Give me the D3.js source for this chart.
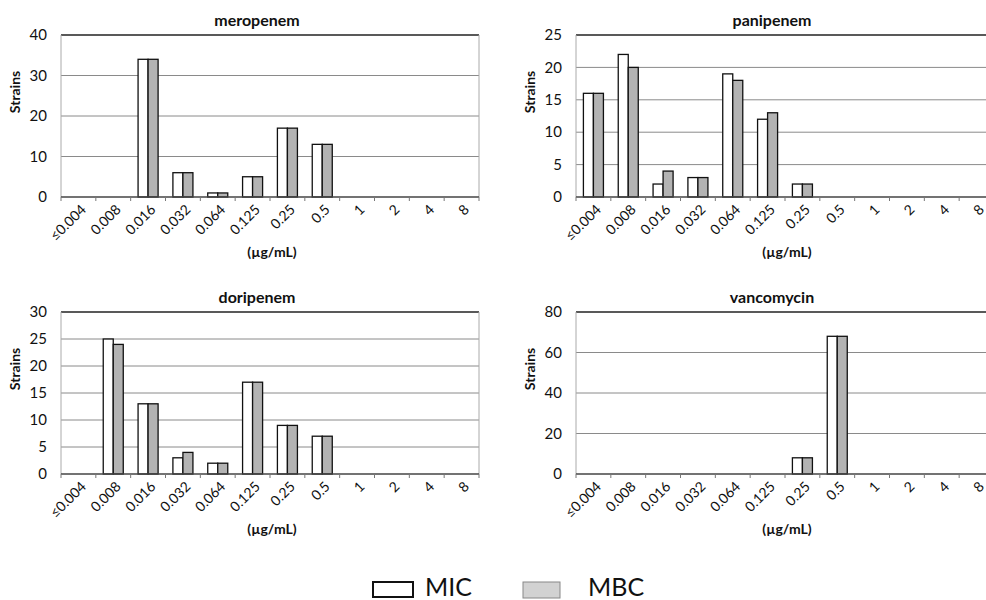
<!DOCTYPE html>
<html>
<script src='https://d3js.org/d3.v7.min.js'></script>
<style>
 body {margin:0; background:#fff;}
 text {font-family: Lato, "Open Sans", sans-serif; fill:#111;}
</style>
<body onload='init()'>
<svg width=986 height=600>
</svg>
<script>

// concentration classes (µg/mL)
const categories = ['≤0.004','0.008','0.016','0.032','0.064','0.125','0.25','0.5','1','2','4','8'];

const meropenemMIC = [0,0,34,6,1,5,17,13,0,0,0,0];
const meropenemMBC = [0,0,34,6,1,5,17,13,0,0,0,0];
const panipenemMIC = [16,22,2,3,19,12,2,0,0,0,0,0];
const panipenemMBC = [16,20,4,3,18,13,2,0,0,0,0,0];
const doripenemMIC = [0,25,13,3,2,17,9,7,0,0,0,0];
const doripenemMBC = [0,24,13,4,2,17,9,7,0,0,0,0];
const vancomycinMIC = [0,0,0,0,0,0,8,68,0,0,0,0];
const vancomycinMBC = [0,0,0,0,0,0,8,68,0,0,0,0];

const series = ['MIC','MBC'];

function init() {

 var w = 418, h = 162;
 var svg = d3.select('svg');

 drawPanel(61, 35, 'meropenem', meropenemMIC, meropenemMBC, 40, 10);
 drawPanel(576, 35, 'panipenem', panipenemMIC, panipenemMBC, 25, 5);
 drawPanel(61, 312, 'doripenem', doripenemMIC, doripenemMBC, 30, 5);
 drawPanel(576, 312, 'vancomycin', vancomycinMIC, vancomycinMBC, 80, 20);

 function drawPanel(left, top, title, mic, mbc, ymax, ystep) {
  var g = svg.append('g').attr('transform', 'translate(' + left + ',' + top + ')');

  var x = d3.scaleBand().domain(categories).range([0, w]);
  var xs = d3.scaleBand().domain(series).range([0, x.bandwidth()]).paddingOuter(0.74);
  var y = d3.scaleLinear().domain([0, ymax]).range([h, 0]);
  var ticks = d3.range(0, ymax + ystep / 2, ystep);

  // gridlines
  g.selectAll('.grid').data(ticks.filter(function(d) { return d > 0 && d < ymax; }))
   .enter().append('line')
    .attr('x1', 0).attr('x2', w)
    .attr('y1', function(d) { return y(d); }).attr('y2', function(d) { return y(d); })
    .style('stroke', '#8a8a8a').style('stroke-width', 1);

  // frame
  g.append('line').attr('x1', 0).attr('x2', w).attr('y1', y(ymax)).attr('y2', y(ymax))
   .style('stroke', '#222').style('stroke-width', 1.5);
  g.append('line').attr('x1', 0).attr('x2', 0).attr('y1', 0).attr('y2', h)
   .style('stroke', '#aaa');
  g.append('line').attr('x1', w).attr('x2', w).attr('y1', 0).attr('y2', h)
   .style('stroke', '#aaa');

  // bars
  var data = categories.map(function(c, i) { return {cat: c, MIC: mic[i], MBC: mbc[i]}; });
  g.selectAll('.grp').data(data).enter().append('g')
   .attr('transform', function(d) { return 'translate(' + x(d.cat) + ',0)'; })
   .selectAll('rect')
   .data(function(d) { return series.map(function(s) { return {s: s, v: d[s]}; }).filter(function(e) { return e.v > 0; }); })
   .enter().append('rect')
    .attr('x', function(e) { return xs(e.s); })
    .attr('y', function(e) { return y(e.v); })
    .attr('width', xs.bandwidth())
    .attr('height', function(e) { return h - y(e.v); })
    .style('fill', function(e) { return e.s == 'MIC' ? '#fff' : '#b3b3b3'; })
    .style('stroke', '#111').style('stroke-width', 1.3);

  // x axis line and ticks at category boundaries
  g.append('line').attr('x1', 0).attr('x2', w).attr('y1', h).attr('y2', h)
   .style('stroke', '#444').style('stroke-width', 1.3);
  g.selectAll('.xt').data(d3.range(categories.length + 1)).enter().append('line')
   .attr('x1', function(i) { return i * x.step(); }).attr('x2', function(i) { return i * x.step(); })
   .attr('y1', h).attr('y2', h + 4)
   .style('stroke', '#777');

  g.selectAll('.xl').data(categories).enter().append('text')
   .attr('transform', function(d) { return 'translate(' + (x(d) + x.bandwidth() / 2 + 5) + ',' + (h + 10) + ') rotate(-45)'; })
   .attr('text-anchor', 'end')
   .attr('dy', '0.35em')
   .style('font-size', '14px')
   .text(function(d) { return d; });

  // y labels
  g.selectAll('.yl').data(ticks).enter().append('text')
   .attr('x', -14).attr('y', function(d) { return y(d); })
   .attr('dy', '0.35em').attr('text-anchor', 'end')
   .style('font-size', '15px')
   .text(function(d) { return d; });

  g.append('text')
   .attr('transform', 'translate(' + (-41) + ',' + (h / 2 - 24) + ') rotate(-90)')
   .attr('text-anchor', 'middle')
   .style('font-size', '14px').style('font-weight', 'bold')
   .text('Strains');

  g.append('text')
   .attr('x', w / 2 - 13).attr('y', -9)
   .attr('text-anchor', 'middle')
   .style('font-size', '16px').style('font-weight', 'bold')
   .text(title);

  g.append('text')
   .attr('x', w / 2 + 2).attr('y', h + 60)
   .attr('text-anchor', 'middle')
   .style('font-size', '14px').style('font-weight', 'bold')
   .text('(µg/mL)');
 }

 // legend
 var lg = svg.append('g');
 lg.append('rect').attr('x', 373).attr('y', 582).attr('width', 40).attr('height', 15)
  .style('fill', '#fff').style('stroke', '#111').style('stroke-width', 2);
 lg.append('text').attr('x', 425).attr('y', 596).style('font-size', '25px').text('MIC');
 lg.append('rect').attr('x', 523).attr('y', 582).attr('width', 37).attr('height', 16)
  .style('fill', '#d2d2d2').style('stroke', '#888').style('stroke-width', 1);
 lg.append('text').attr('x', 588).attr('y', 596).style('font-size', '25px').text('MBC');
}

</script>
</body>
</html>
